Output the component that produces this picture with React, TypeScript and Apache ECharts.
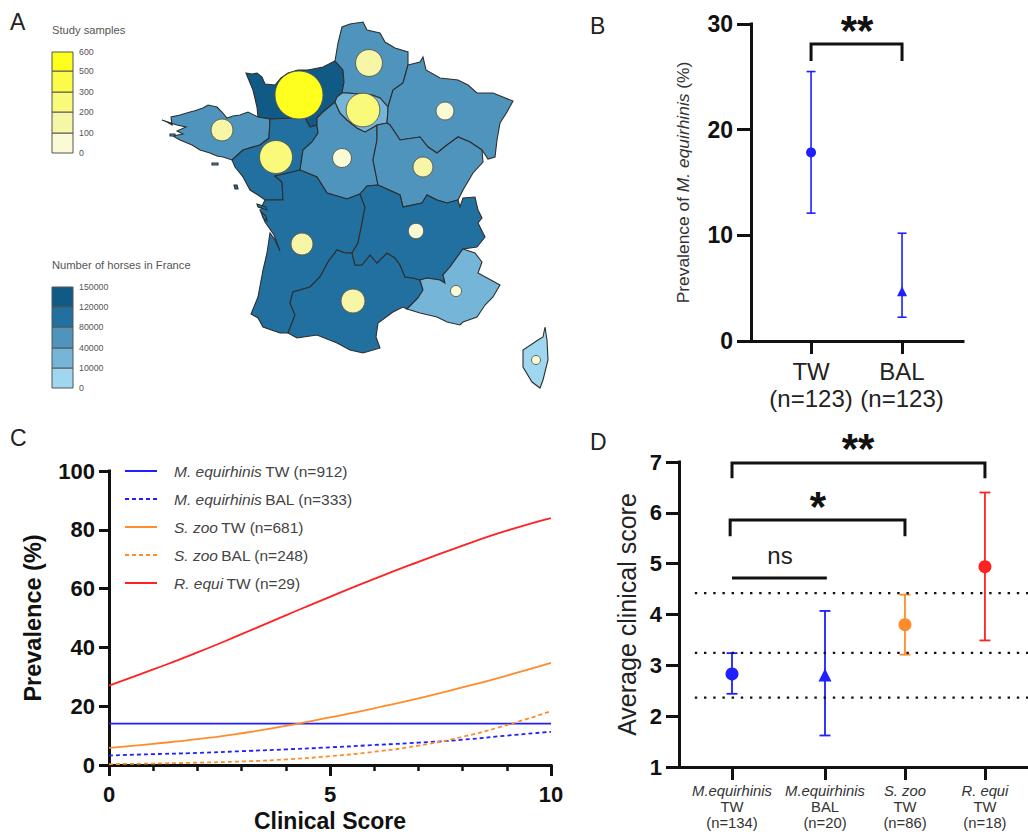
import React, { useEffect, useRef } from "react";
import * as echarts from "echarts";

const FONT = '"Liberation Sans", Arial, sans-serif';
const BLUE = "#1f1fff";
const ORANGE = "#ff8c2a";
const RED = "#ff2222";
const INK = "#111111";
const SOFT = "#333333";

// ---- Panel A: map ----
const regionNames = ["Normandie","Bretagne","Pays de la Loire","Centre","Hauts-de-France","Ile-de-France","Grand Est","Bourgogne-Franche-Comte","Nouvelle-Aquitaine","Occitanie","Auvergne-Rhone-Alpes","PACA","Corse"];
const horseCounts = [135000,70000,100000,60000,60000,25000,65000,60000,110000,110000,110000,30000,5000];
const sampleCounts = [600,126,283,94,190,295,84,104,126,150,62,32,21];
const sampleCentres = [[299,95],[222,130],[276,157],[342,158],[369,63],[363,110],[445,111],[423,167],[302,244],[353,301],[416,231],[456,291],[536,360]];
const regionOutlines: number[][][][] = [
  [[[246,73],[252,74],[257,73],[262,77],[265,84],[275,85],[281,78],[288,73],[298,70],[308,70],[323,67],[335,61],[343,70],[344,82],[342,93],[337,97],[335,102],[323,112],[317,118],[317,125],[310,127],[305,118],[293,118],[270,119],[258,117],[257,107],[253,90],[248,78]]],
  [[[162,120],[167,122],[172,125],[171,117],[180,115],[190,112],[194,111],[203,108],[208,105],[217,107],[222,112],[227,118],[233,116],[240,115],[248,112],[258,117],[270,119],[269,138],[260,145],[243,150],[232,160],[223,157],[217,156],[210,153],[200,150],[192,145],[180,140],[173,136],[183,134],[177,131],[186,127],[177,125]],[[212,163],[218,163],[218,165],[212,165]],[[170,134],[175,134],[175,136],[170,136]]],
  [[[270,119],[293,118],[305,118],[310,127],[317,125],[318,133],[312,142],[303,150],[300,170],[288,173],[275,176],[282,182],[283,200],[265,200],[258,195],[250,190],[243,177],[235,167],[232,160],[243,150],[260,145],[269,138]],[[234,185],[237,185],[238,189],[235,189]]],
  [[[323,112],[335,102],[340,113],[347,120],[357,128],[365,132],[377,125],[377,140],[373,160],[378,185],[367,186],[360,194],[347,199],[327,193],[317,177],[300,170],[303,150],[312,142],[318,133],[317,125],[317,118]]],
  [[[335,61],[338,43],[342,27],[350,24],[363,22],[367,30],[380,33],[385,42],[395,48],[408,52],[408,65],[403,83],[393,90],[388,107],[380,98],[372,95],[347,93],[342,93],[344,82],[343,70]]],
  [[[335,102],[337,97],[342,93],[347,93],[372,95],[380,98],[388,107],[388,110],[387,123],[377,125],[365,132],[357,128],[347,120],[340,113]]],
  [[[408,65],[420,62],[423,57],[426,70],[440,78],[458,80],[468,85],[477,93],[493,93],[513,101],[507,112],[500,123],[497,140],[495,157],[488,159],[482,150],[470,142],[458,137],[447,145],[437,153],[428,147],[420,137],[400,140],[390,125],[387,123],[388,110],[388,107],[393,90],[403,83]]],
  [[[377,125],[387,123],[390,125],[400,140],[420,137],[428,147],[437,153],[447,145],[458,137],[470,142],[482,150],[483,162],[473,173],[463,190],[458,200],[447,203],[437,200],[427,195],[422,203],[403,207],[400,195],[378,185],[373,160],[377,140]]],
  [[[275,176],[288,173],[300,170],[317,177],[327,193],[347,199],[360,194],[365,207],[362,223],[358,243],[352,253],[345,253],[337,250],[328,262],[320,277],[310,287],[293,292],[290,303],[295,315],[288,333],[280,333],[263,327],[258,318],[251,314],[258,297],[263,270],[267,253],[270,233],[275,240],[280,251],[274,235],[265,222],[260,210],[265,200],[283,200],[282,182]],[[257,204],[266,207],[267,210],[258,207]],[[261,212],[266,216],[267,221],[263,218]]],
  [[[352,253],[355,265],[362,265],[370,255],[377,263],[387,253],[395,258],[400,265],[405,277],[413,278],[420,280],[423,290],[418,298],[407,309],[403,307],[393,312],[378,323],[376,337],[380,348],[363,353],[350,350],[337,343],[317,335],[297,338],[288,333],[295,315],[290,303],[293,292],[310,287],[320,277],[328,262],[337,250],[345,253]]],
  [[[360,194],[367,186],[378,185],[400,195],[403,207],[422,203],[427,195],[437,200],[447,203],[458,200],[460,207],[463,198],[475,197],[478,210],[482,218],[478,223],[485,237],[477,247],[463,249],[460,253],[450,267],[443,275],[445,283],[440,280],[427,278],[420,280],[413,278],[405,277],[400,265],[395,258],[387,253],[377,263],[370,255],[362,265],[355,265],[352,253],[358,243],[362,223],[365,207]]],
  [[[463,249],[475,253],[482,262],[478,273],[500,285],[493,297],[485,305],[477,317],[463,322],[460,325],[447,322],[437,317],[420,313],[407,309],[418,298],[423,290],[420,280],[427,278],[440,280],[445,283],[443,275],[450,267],[460,253]]],
  [[[545,327],[547,340],[548,360],[543,380],[540,388],[532,382],[523,367],[523,350],[538,340],[543,337]]],
];
const sampleBreaks = [0,100,200,300,500,600];
const samplePalette = ["#fafad4","#f6f6a6","#f9f97a","#fbfb4a","#ffff1e"];
const horseBreaks = [0,10000,40000,80000,120000,150000];
const horsePalette = ["#a0d7f0","#74b5d8","#4f94bc","#21709f","#125a86"];

// ---- Panel B ----
const bPositions = [1, 2];
const bLabels = ["TW", "BAL"];
const bNs = ["(n=123)", "(n=123)"];
const bMeans = [17.85, 4.7];
const bLows = [12.1, 2.25];
const bHighs = [25.5, 10.2];
const bSymbols = ["circle", "triangle"];

// ---- Panel C ----
const cScores = [0,1,2,3,4,5,6,7,8,9,10];
const cMequiTW = [14.1,14.1,14.1,14.1,14.1,14.1,14.1,14.1,14.1,14.1,14.1];
const cMequiBAL = [3.2,3.7,4.1,4.7,5.3,6.0,6.8,7.6,8.6,10.0,11.3];
const cSzooTW = [5.8,7.2,8.8,10.8,13.3,16.2,19.3,22.7,26.4,30.4,34.7];
const cSzooBAL = [0.3,0.5,0.8,1.2,1.9,3.0,4.5,6.6,9.6,13.6,18.3];
const cRequiTW = [27,32.5,38.3,44.5,50.9,57.2,63.3,69.1,74.6,79.7,84];

// ---- Panel D ----
const dPositions = [1, 2, 2.86, 3.72];
const dNames = ["M.equirhinis","M.equirhinis","S. zoo","R. equi"];
const dSamples = ["TW","BAL","TW","TW"];
const dNs = ["(n=134)","(n=20)","(n=86)","(n=18)"];
const dMeans = [2.83,2.81,3.8,4.94];
const dLows = [2.44,1.62,3.21,3.49];
const dHighs = [3.24,4.07,4.39,6.4];
const dColors = [BLUE,BLUE,ORANGE,RED];
const dSymbols = ["circle","triangle","circle","circle"];
const dReferenceLevels = [4.42,3.245,2.365];

const binColor = (v: number, breaks: number[], palette: string[]) => {
  for (let i = 0; i < palette.length; i++) if (v <= breaks[i + 1]) return palette[i];
  return palette[palette.length - 1];
};

const errorBars = (xAxisIndex: number, yAxisIndex: number, xs: number[], lows: number[], highs: number[], colors: string[], capHalf: number, width: number) => ({
  type: "custom",
  xAxisIndex, yAxisIndex,
  silent: true,
  clip: false,
  encode: { x: 0, y: [1, 2] },
  data: xs.map((x, i) => [x, lows[i], highs[i]]),
  renderItem: (params: any, api: any) => {
    const lo = api.coord([api.value(0), api.value(1)]);
    const hi = api.coord([api.value(0), api.value(2)]);
    const style = { stroke: colors[params.dataIndex], lineWidth: width, fill: "none" };
    const seg = (a: number[], b: number[]) => ({ type: "line", shape: { x1: a[0], y1: a[1], x2: b[0], y2: b[1] }, style });
    return {
      type: "group",
      children: [
        seg(lo, hi),
        seg([lo[0] - capHalf, lo[1]], [lo[0] + capHalf, lo[1]]),
        seg([hi[0] - capHalf, hi[1]], [hi[0] + capHalf, hi[1]]),
      ],
    };
  },
});

const bracket = (xAxisIndex: number, yAxisIndex: number, pts: number[][]) => ({
  type: "line", xAxisIndex, yAxisIndex, data: pts, silent: true, clip: false,
  showSymbol: false, symbol: "none",
  lineStyle: { color: INK, width: 3, join: "miter", cap: "butt" },
});

const axisLine = { show: true, onZero: false, lineStyle: { color: INK, width: 3, cap: "square" } };
const boldLabel = { color: INK, fontFamily: FONT, fontWeight: "bold" as const, fontSize: 22 };

export default function App() {
  const ref = useRef<HTMLDivElement>(null);
  useEffect(() => {
    const chart = echarts.init(ref.current!, undefined, { renderer: "svg" });

    const features = regionNames.map((name, i) => ({
      type: "Feature",
      properties: { name },
      geometry: { type: "MultiPolygon", coordinates: regionOutlines[i].map((ring) => [ring.map(([x, y]) => [x, -y])]) },
    }));
    echarts.registerMap("france", { type: "FeatureCollection", features } as any);
    const allPts = regionOutlines.flat(2);
    const minX = Math.min(...allPts.map((p) => p[0]));
    const maxX = Math.max(...allPts.map((p) => p[0]));
    const minY = Math.min(...allPts.map((p) => p[1]));
    const maxY = Math.max(...allPts.map((p) => p[1]));

    const text = (t: string, x: number, y: number, size: number, fill: string, extra: any = {}) => ({
      type: "text", x, y, silent: true, z: 20,
      style: { text: t, fill, fontSize: size, fontFamily: FONT, textVerticalAlign: "middle", ...extra },
    });
    const legendBlock = (title: string, titleY: number, edges: number[], breaks: number[], palette: string[]) => {
      const els: any[] = [text(title, 52, titleY, 11.2, "#555")];
      palette.forEach((c, i) => {
        els.push({ type: "rect", silent: true, shape: { x: 52, y: edges[i + 1], width: 21, height: edges[i] - edges[i + 1] }, style: { fill: c, stroke: "#555", lineWidth: 1 } });
      });
      breaks.forEach((b, i) => els.push(text(String(b), 79, edges[i], 8.8, "#555")));
      return els;
    };

    chart.setOption({
      animation: false,
      textStyle: { fontFamily: FONT },
      graphic: [
        text("A", 10, 22, 23, "#222"),
        text("B", 590, 26, 23, "#222"),
        text("C", 10, 438, 23, "#222"),
        text("D", 590, 442, 23, "#222"),
        ...legendBlock("Study samples", 30, [153, 133, 112, 92, 71, 52], sampleBreaks, samplePalette),
        ...legendBlock("Number of horses in France", 265, [388, 368, 348, 327, 307, 287], horseBreaks, horsePalette),
        text("**", 857, 30, 42, INK, { fontWeight: "bold", textAlign: "center" }),
        text("**", 858, 448, 42, INK, { fontWeight: "bold", textAlign: "center" }),
        text("*", 818, 506, 42, INK, { fontWeight: "bold", textAlign: "center" }),
        text("ns", 780, 555, 24, "#222", { textAlign: "center" }),
      ],
      geo: {
        map: "france",
        aspectScale: 1,
        left: minX, top: minY, width: maxX - minX, height: maxY - minY,
        roam: false, silent: true,
        label: { show: false },
        emphasis: { disabled: true },
        itemStyle: { borderColor: "#2e2e2e", borderWidth: 1.1 },
        regions: regionNames.map((name, i) => ({ name, itemStyle: { areaColor: binColor(horseCounts[i], horseBreaks, horsePalette) } })),
      },
      grid: [
        { left: 751, top: 24, width: 212, height: 317, outerBoundsMode: "none" },
        { left: 109, top: 471, width: 442, height: 294, outerBoundsMode: "none" },
        { left: 679, top: 462, width: 349, height: 305, outerBoundsMode: "none" },
      ],
      xAxis: [
        {
          gridIndex: 0, type: "value", min: 0.34, max: 2.67, splitLine: { show: false }, axisLine,
          axisTick: { show: true, customValues: bPositions, length: 13, lineStyle: { color: INK, width: 3 } },
          axisLabel: {
            customValues: bPositions, margin: 17, color: "#222", fontFamily: FONT, fontSize: 24, lineHeight: 27,
            formatter: (v: number) => { const i = bPositions.indexOf(v); return i < 0 ? "" : `${bLabels[i]}\n${bNs[i]}`; },
          },
        },
        {
          gridIndex: 1, type: "value", min: 0, max: 10, interval: 5, splitLine: { show: false }, axisLine,
          axisTick: { show: true, length: 11, lineStyle: { color: INK, width: 3 } },
          minorTick: { show: true, splitNumber: 5, length: 6, lineStyle: { color: INK, width: 2.5 } },
          axisLabel: { ...boldLabel, margin: 18 },
          name: "Clinical Score", nameLocation: "middle", nameGap: 44,
          nameTextStyle: { color: INK, fontFamily: FONT, fontWeight: "bold", fontSize: 23 },
        },
        {
          gridIndex: 2, type: "value", min: 0.43, max: 4.183, splitLine: { show: false }, axisLine,
          axisTick: { show: true, customValues: dPositions, length: 13, lineStyle: { color: INK, width: 3 } },
          axisLabel: {
            customValues: dPositions, margin: 16, color: "#333", fontFamily: FONT,
            formatter: (v: number) => { const i = dPositions.indexOf(v); return i < 0 ? "" : `{i|${dNames[i]}}\n{n|${dSamples[i]}}\n{n|${dNs[i]}}`; },
            rich: {
              i: { fontStyle: "italic", fontSize: 14.8, lineHeight: 16, color: "#333", fontFamily: FONT },
              n: { fontSize: 14.8, lineHeight: 16, color: "#333", fontFamily: FONT },
            },
          },
        },
      ],
      yAxis: [
        {
          gridIndex: 0, type: "value", min: 0, max: 30, interval: 10, splitLine: { show: false }, axisLine,
          axisTick: { show: true, length: 14, lineStyle: { color: INK, width: 3 } },
          axisLabel: { ...boldLabel, fontSize: 23, margin: 18 },
          name: "{r|Prevalence of }{i|M. equirhinis}{r| (%)}", nameLocation: "middle", nameGap: 60, nameRotate: 90,
          nameTextStyle: {
            rich: {
              r: { fontSize: 17.4, color: SOFT, fontFamily: FONT },
              i: { fontSize: 17.4, color: SOFT, fontFamily: FONT, fontStyle: "italic" },
            },
          },
        },
        {
          gridIndex: 1, type: "value", min: 0, max: 100, interval: 20, splitLine: { show: false }, axisLine,
          axisTick: { show: true, length: 10, lineStyle: { color: INK, width: 3 } },
          axisLabel: { ...boldLabel, margin: 14 },
          name: "Prevalence (%)", nameLocation: "middle", nameGap: 64, nameRotate: 90,
          nameTextStyle: { color: INK, fontFamily: FONT, fontWeight: "bold", fontSize: 23.5 },
        },
        {
          gridIndex: 2, type: "value", min: 1, max: 7, interval: 1, splitLine: { show: false }, axisLine,
          axisTick: { show: true, length: 13, lineStyle: { color: INK, width: 3 } },
          axisLabel: { ...boldLabel, margin: 17 },
          name: "Average clinical score", nameLocation: "middle", nameGap: 40, nameRotate: 90,
          nameTextStyle: { color: "#222", fontFamily: FONT, fontSize: 25 },
        },
      ],
      legend: {
        left: 124, top: 463, orient: "vertical", padding: 0, itemWidth: 32, itemHeight: 14, itemGap: 12,
        selectedMode: false,
        itemStyle: { opacity: 0, borderWidth: 0 },
        data: ["M. equirhinis|TW (n=912)", "M. equirhinis|BAL (n=333)", "S. zoo|TW (n=681)", "S. zoo|BAL (n=248)", "R. equi|TW (n=29)"],
        formatter: (name: string) => { const [a, b] = name.split("|"); return `{i|${a}} {n|${b}}`; },
        textStyle: {
          rich: {
            i: { fontStyle: "italic", fontSize: 15.5, color: "#444", fontFamily: FONT, padding: [0, 0, 0, 12] },
            n: { fontSize: 15.5, color: "#444", fontFamily: FONT },
          },
        },
      },
      series: [
        // map bubbles
        {
          type: "scatter", coordinateSystem: "geo", geoIndex: 0, silent: true, z: 5,
          data: sampleCounts.map((v, i) => ({
            value: [sampleCentres[i][0], -sampleCentres[i][1], v],
            itemStyle: { color: binColor(v, sampleBreaks, samplePalette), borderColor: "#555", borderWidth: 0.9, opacity: 1 },
          })),
          symbol: "circle",
          symbolSize: (d: number[]) => 48 * Math.sqrt(d[2] / 600),
        },
        // B
        bracket(0, 0, [[1, 26.5], [1, 28.1], [2, 28.1], [2, 26.5]]),
        errorBars(0, 0, bPositions, bLows, bHighs, [BLUE, BLUE], 4.5, 1.6),
        {
          type: "scatter", xAxisIndex: 0, yAxisIndex: 0, silent: true, z: 5,
          data: bPositions.map((x, i) => ({ value: [x, bMeans[i]], symbol: bSymbols[i], symbolSize: 10, itemStyle: { color: BLUE, opacity: 1 } })),
        },
        // C
        ...[
          ["M. equirhinis|TW (n=912)", cMequiTW, BLUE, "solid"],
          ["M. equirhinis|BAL (n=333)", cMequiBAL, BLUE, [4, 3]],
          ["S. zoo|TW (n=681)", cSzooTW, ORANGE, "solid"],
          ["S. zoo|BAL (n=248)", cSzooBAL, ORANGE, [4, 3]],
          ["R. equi|TW (n=29)", cRequiTW, RED, "solid"],
        ].map(([name, vals, color, type]: any) => ({
          type: "line", name, xAxisIndex: 1, yAxisIndex: 1, smooth: 0.6, showSymbol: false, symbol: "none", silent: true,
          data: cScores.map((x, i) => [x, vals[i]]),
          itemStyle: { color },
          lineStyle: { color, width: 1.8, type },
        })),
        // D
        ...dReferenceLevels.map((level) => ({
          type: "line", xAxisIndex: 2, yAxisIndex: 2, silent: true, showSymbol: false, symbol: "none",
          data: [[0.6, level], [4.183, level]],
          lineStyle: { color: INK, width: 2.4, type: [2.4, 6.8], cap: "butt" },
        })),
        bracket(2, 2, [[1, 6.68], [1, 6.98], [3.72, 6.98], [3.72, 6.68]]),
        bracket(2, 2, [[0.98, 5.54], [0.98, 5.86], [2.86, 5.86], [2.86, 5.54]]),
        bracket(2, 2, [[1, 4.72], [2.02, 4.72]]),
        errorBars(2, 2, dPositions, dLows, dHighs, dColors, 5.5, 1.8),
        {
          type: "scatter", xAxisIndex: 2, yAxisIndex: 2, silent: true, z: 5,
          data: dPositions.map((x, i) => ({ value: [x, dMeans[i]], symbol: dSymbols[i], symbolSize: 13, itemStyle: { color: dColors[i], opacity: 1 } })),
        },
      ],
    } as any);
    return () => chart.dispose();
  }, []);
  return <div ref={ref} style={{ position: "absolute", left: 0, top: 0, width: 1028, height: 832, background: "#fff" }} />;
}
